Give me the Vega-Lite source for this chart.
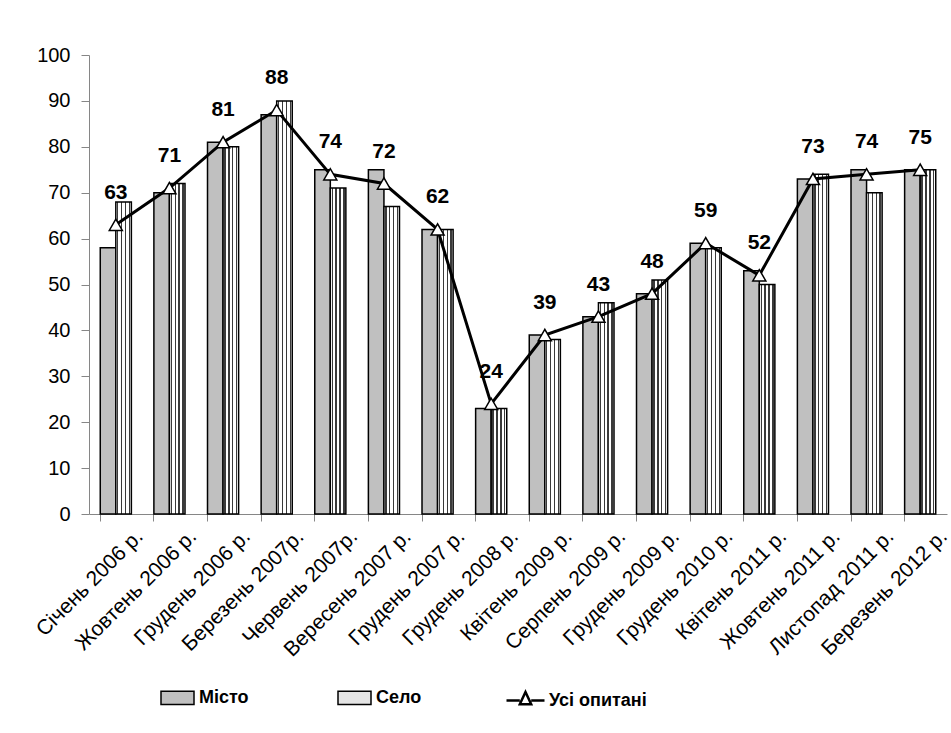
{
  "$schema": "https://vega.github.io/schema/vega-lite/v6.json",
  "width": 858,
  "height": 459,
  "autosize": {"type": "none"},
  "padding": {"left": 89, "top": 55, "right": 4, "bottom": 219},
  "background": "white",
  "config": {"view": {"stroke": null}, "font": "Liberation Sans"},
  "datasets": {
    "bars": [
      {"period": "Січень 2006 р.", "series": "Місто", "value": 58},
      {"period": "Січень 2006 р.", "series": "Село", "value": 68},
      {"period": "Жовтень 2006 р.", "series": "Місто", "value": 70},
      {"period": "Жовтень 2006 р.", "series": "Село", "value": 72},
      {"period": "Грудень 2006 р.", "series": "Місто", "value": 81},
      {"period": "Грудень 2006 р.", "series": "Село", "value": 80},
      {"period": "Березень 2007р.", "series": "Місто", "value": 87},
      {"period": "Березень 2007р.", "series": "Село", "value": 90},
      {"period": "Червень 2007р.", "series": "Місто", "value": 75},
      {"period": "Червень 2007р.", "series": "Село", "value": 71},
      {"period": "Вересень 2007 р.", "series": "Місто", "value": 75},
      {"period": "Вересень 2007 р.", "series": "Село", "value": 67},
      {"period": "Грудень 2007 р.", "series": "Місто", "value": 62},
      {"period": "Грудень 2007 р.", "series": "Село", "value": 62},
      {"period": "Грудень 2008 р.", "series": "Місто", "value": 23},
      {"period": "Грудень 2008 р.", "series": "Село", "value": 23},
      {"period": "Квітень 2009 р.", "series": "Місто", "value": 39},
      {"period": "Квітень 2009 р.", "series": "Село", "value": 38},
      {"period": "Серпень 2009 р.", "series": "Місто", "value": 43},
      {"period": "Серпень 2009 р.", "series": "Село", "value": 46},
      {"period": "Грудень 2009 р.", "series": "Місто", "value": 48},
      {"period": "Грудень 2009 р.", "series": "Село", "value": 51},
      {"period": "Грудень 2010 р.", "series": "Місто", "value": 59},
      {"period": "Грудень 2010 р.", "series": "Село", "value": 58},
      {"period": "Квітень 2011 р.", "series": "Місто", "value": 53},
      {"period": "Квітень 2011 р.", "series": "Село", "value": 50},
      {"period": "Жовтень 2011 р.", "series": "Місто", "value": 73},
      {"period": "Жовтень 2011 р.", "series": "Село", "value": 74},
      {"period": "Листопад 2011 р.", "series": "Місто", "value": 75},
      {"period": "Листопад 2011 р.", "series": "Село", "value": 70},
      {"period": "Березень 2012 р.", "series": "Місто", "value": 75},
      {"period": "Березень 2012 р.", "series": "Село", "value": 75}
    ],
    "all": [
      {"period": "Січень 2006 р.", "series": "Усі опитані", "value": 63},
      {"period": "Жовтень 2006 р.", "series": "Усі опитані", "value": 71},
      {"period": "Грудень 2006 р.", "series": "Усі опитані", "value": 81},
      {"period": "Березень 2007р.", "series": "Усі опитані", "value": 88},
      {"period": "Червень 2007р.", "series": "Усі опитані", "value": 74},
      {"period": "Вересень 2007 р.", "series": "Усі опитані", "value": 72},
      {"period": "Грудень 2007 р.", "series": "Усі опитані", "value": 62},
      {"period": "Грудень 2008 р.", "series": "Усі опитані", "value": 24},
      {"period": "Квітень 2009 р.", "series": "Усі опитані", "value": 39},
      {"period": "Серпень 2009 р.", "series": "Усі опитані", "value": 43},
      {"period": "Грудень 2009 р.", "series": "Усі опитані", "value": 48},
      {"period": "Грудень 2010 р.", "series": "Усі опитані", "value": 59},
      {"period": "Квітень 2011 р.", "series": "Усі опитані", "value": 52},
      {"period": "Жовтень 2011 р.", "series": "Усі опитані", "value": 73},
      {"period": "Листопад 2011 р.", "series": "Усі опитані", "value": 74},
      {"period": "Березень 2012 р.", "series": "Усі опитані", "value": 75}
    ]
  },
  "encoding": {
    "x": {
      "field": "period",
      "type": "nominal",
      "sort": ["Січень 2006 р.", "Жовтень 2006 р.", "Грудень 2006 р.", "Березень 2007р.", "Червень 2007р.", "Вересень 2007 р.", "Грудень 2007 р.", "Грудень 2008 р.", "Квітень 2009 р.", "Серпень 2009 р.", "Грудень 2009 р.", "Грудень 2010 р.", "Квітень 2011 р.", "Жовтень 2011 р.", "Листопад 2011 р.", "Березень 2012 р."],
      "scale": {"paddingInner": 0.42, "paddingOuter": 0.21},
      "axis": {
        "title": null,
        "bandPosition": 0,
        "labelOffset": 24,
        "labelAngle": -45,
        "labelAlign": "right",
        "labelBaseline": "middle",
        "labelPadding": 12,
        "labelFont": "Liberation Sans",
        "labelFontSize": 21,
        "labelColor": "black",
        "labelLimit": 300,
        "tickSize": 7,
        "tickColor": "#868686",
        "domainColor": "#868686",
        "grid": false
      }
    },
    "y": {
      "field": "value",
      "type": "quantitative",
      "scale": {"domain": [0, 100], "nice": false},
      "axis": {
        "title": null,
        "values": [0, 10, 20, 30, 40, 50, 60, 70, 80, 90, 100],
        "labelFont": "Liberation Sans",
        "labelFontSize": 20,
        "labelColor": "black",
        "labelPadding": 11,
        "tickSize": 8,
        "tickColor": "#868686",
        "domainColor": "#868686",
        "grid": false
      }
    }
  },
  "layer": [
    {
      "data": {"name": "bars"},
      "mark": {"type": "bar", "stroke": "black", "strokeWidth": 1.5},
      "encoding": {
        "xOffset": {"field": "series", "type": "nominal", "sort": ["Місто", "Село"]},
        "fill": {
          "field": "series",
          "type": "nominal",
          "scale": {"domain": ["Місто", "Село"], "range": ["#c0c0c0", "#e4e4e4"]},
          "condition": {
            "test": "datum.series === 'Село'",
            "value": {"gradient": "linear", "x1": 0, "y1": 0, "x2": 1, "y2": 0, "stops": [
              {"offset": 0, "color": "#ffffff"}, {"offset": 0.08, "color": "#ffffff"},
              {"offset": 0.08, "color": "#3a3a3a"}, {"offset": 0.17, "color": "#3a3a3a"},
              {"offset": 0.17, "color": "#ffffff"}, {"offset": 0.33, "color": "#ffffff"},
              {"offset": 0.33, "color": "#3a3a3a"}, {"offset": 0.42, "color": "#3a3a3a"},
              {"offset": 0.42, "color": "#ffffff"}, {"offset": 0.58, "color": "#ffffff"},
              {"offset": 0.58, "color": "#3a3a3a"}, {"offset": 0.67, "color": "#3a3a3a"},
              {"offset": 0.67, "color": "#ffffff"}, {"offset": 0.83, "color": "#ffffff"},
              {"offset": 0.83, "color": "#3a3a3a"}, {"offset": 0.92, "color": "#3a3a3a"},
              {"offset": 0.92, "color": "#ffffff"}, {"offset": 1, "color": "#ffffff"}
            ]}
          },
          "legend": {
            "orient": "none",
            "legendX": 71,
            "legendY": 625,
            "direction": "horizontal",
            "title": null,
            "symbolType": "M-1,-0.4H1V0.4H-1Z",
            "symbolSize": 1089,
            "symbolStrokeColor": "black",
            "symbolStrokeWidth": 1.5,
            "labelFont": "Liberation Sans",
            "labelFontSize": 18,
            "labelFontWeight": "bold",
            "labelColor": "black",
            "labelOffset": 4,
            "gridAlign": "all",
            "columnPadding": 86,
            "encode": {
              "symbols": {
                "update": {
                  "stroke": {"value": "black"},
                  "strokeWidth": {"value": 1.5},
                  "opacity": {"value": 1}
                }
              }
            }
          }
        }
      }
    },
    {
      "data": {"name": "all"},
      "mark": {"type": "line", "strokeWidth": 3},
      "encoding": {
        "stroke": {
          "field": "series",
          "type": "nominal",
          "scale": {"domain": ["Усі опитані"], "range": ["black"]},
          "legend": {
            "orient": "none",
            "legendX": 416,
            "legendY": 625,
            "title": null,
            "symbolType": "M-1,0H-0.3M0.3,0H1M0,-0.45L0.3,0.2L-0.3,0.2Z",
            "symbolSize": 1444,
            "symbolFillColor": "white",
            "symbolStrokeColor": "black",
            "symbolStrokeWidth": 2.5,
            "labelFont": "Liberation Sans",
            "labelFontSize": 18,
            "labelFontWeight": "bold",
            "labelColor": "black",
            "labelOffset": 3,
            "encode": {"symbols": {"update": {"fill": {"value": "white"}, "stroke": {"value": "black"}}}}
          }
        }
      }
    },
    {
      "data": {"name": "all"},
      "mark": {"type": "point", "shape": "triangle-up", "filled": true, "fill": "white", "stroke": "black", "strokeWidth": 1.5, "size": 170, "opacity": 1}
    },
    {
      "data": {"name": "all"},
      "mark": {"type": "text", "font": "Liberation Sans", "fontSize": 21, "fontWeight": "bold", "baseline": "alphabetic", "dy": -26, "color": "black"},
      "encoding": {"text": {"field": "value", "type": "quantitative"}}
    }
  ]
}
